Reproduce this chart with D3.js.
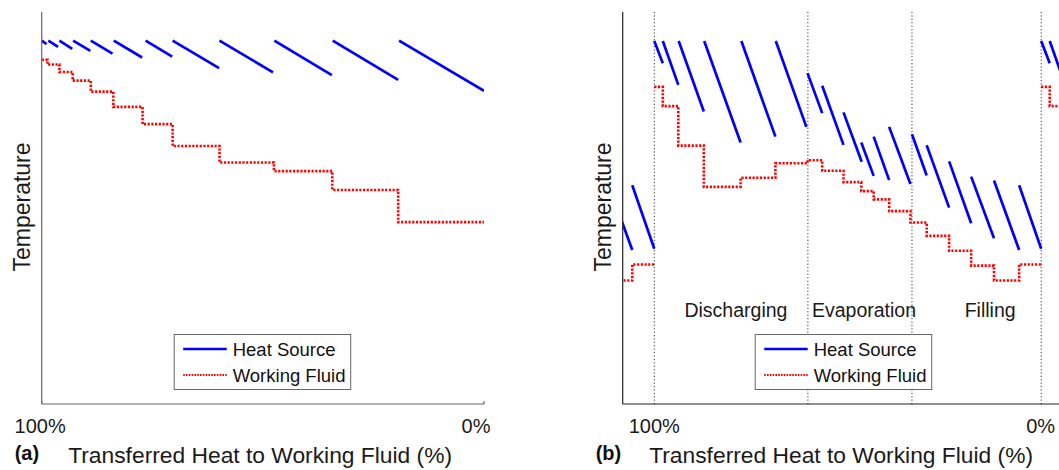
<!DOCTYPE html>
<html>
<head>
<meta charset="utf-8">
<script src="https://cdn.jsdelivr.net/npm/d3@7.9.0/dist/d3.min.js"></script>
<style>
  body { margin: 0; background: #fff; }
  svg { display: block; font-family: "Liberation Sans", Arial, Helvetica, sans-serif; }
</style>
</head>
<body>
<svg width="1059" height="470"></svg>
<script>
// x values are % of heat transferred (100 -> 0), y values are a relative temperature (0-100)

// (a) heat source segments: [x start, T start, x end, T end]
const sourceA = [
  [100, 92.7, 98.9, 91.8],
  [98.5, 92.7, 96.3, 91.1],
  [96.0, 92.7, 93.1, 90.6],
  [92.9, 92.7, 89.0, 90.1],
  [88.9, 92.7, 84.0, 89.4],
  [83.7, 92.7, 77.3, 88.4],
  [76.5, 92.7, 70.5, 88.6],
  [70.4, 92.7, 59.9, 85.7],
  [59.8, 92.7, 47.7, 84.6],
  [47.4, 92.7, 34.4, 83.9],
  [34.2, 92.7, 19.4, 82.7],
  [19.2, 92.7, 0, 79.9]
];
// (a) working fluid steps: breakpoints and levels
const fluidAx = [100, 98.7, 96.0, 93.0, 88.9, 83.8, 77.2, 70.4, 59.8, 47.5, 34.3, 19.4, 0];
const fluidAt = [87.8, 86.6, 84.7, 82.5, 79.7, 75.8, 71.4, 65.8, 61.6, 59.4, 54.6, 46.4];

// (b) one cycle of heat source segments
const sourceB = [
  [100, 92.6, 97.8, 86.9],
  [97.8, 92.6, 93.8, 81.4],
  [93.7, 92.6, 87.2, 74.6],
  [87.1, 92.6, 77.7, 66.7],
  [77.5, 92.6, 68.7, 68.2],
  [68.6, 92.6, 60.7, 70.7],
  [60.4, 84.4, 56.6, 74.2],
  [56.6, 81.2, 51.1, 66.1],
  [51.1, 74.4, 46.4, 61.8],
  [46.5, 66.7, 43.3, 58.2],
  [43.3, 68.2, 39.3, 57.1],
  [39.3, 70.7, 33.8, 56.1],
  [33.4, 68.8, 29.6, 58.3],
  [29.6, 66.0, 23.8, 50.1],
  [23.8, 61.9, 18.1, 46.1],
  [18.1, 58.0, 12.2, 42.3],
  [12.2, 57.0, 5.7, 39.3],
  [5.7, 55.8, 0, 39.6]
];
const fluidBx = [100, 97.8, 93.8, 87.2, 77.7, 68.7, 60.4, 56.6, 51.1, 46.5, 43.3, 39.3, 33.8, 29.6, 23.8, 18.1, 12.2, 5.7, 0];
const fluidBt = [80.9, 76.0, 65.9, 55.4, 57.7, 61.4, 62.2, 59.5, 56.6, 54.3, 52.2, 49.2, 46.3, 42.9, 39.1, 35.3, 31.5, 35.6];
// the cycle repeats, so the neighbouring cycles show at the edges
const cycleShift = [100, 0, -100];

const phaseX = [100, 60.3, 33.4, 0];
const phaseNames = ["Discharging", "Evaporation", "Filling"];
const phaseLabelX = [78.9, 45.8, 13.2];

const tickValues = [100, 0];
const tickLabels = ["100%", "0%"];
const legendNames = ["Heat Source", "Working Fluid"];
const yLabel = "Temperature";
const xLabel = "Transferred Heat to Working Fluid (%)";

const BLUE = "#0000ff", RED = "#ff0000";
const plotTop = 12, plotBottom = 404;

const svg = d3.select("svg");
const y = d3.scaleLinear().domain([0, 100]).range([plotBottom, plotTop]);
const segLine = d3.line();
const stepLine = d3.line().curve(d3.curveStepAfter);

function drawPanel(p) {
  const x = d3.scaleLinear().domain([100, 0]).range(p.range);
  const g = svg.append("g");

  // clip to the axes box
  svg.append("clipPath").attr("id", "clip-" + p.id)
    .append("rect")
    .attr("x", p.left).attr("y", plotTop)
    .attr("width", p.right - p.left).attr("height", plotBottom - plotTop);

  const plot = g.append("g").attr("clip-path", `url(#clip-${p.id})`);

  // phase separators
  if (p.phases) {
    plot.selectAll(".phase").data(phaseX).join("line")
      .attr("x1", d => x(d)).attr("x2", d => x(d))
      .attr("y1", plotTop).attr("y2", plotBottom)
      .attr("stroke", "#333").attr("stroke-width", 1)
      .attr("stroke-dasharray", "1.2,2.2");
  }

  p.shifts.forEach(s => {
    const pts = p.fluidX.map((v, i) => [x(v + s), y(p.fluidT[Math.min(i, p.fluidT.length - 1)])]);
    plot.append("path")
      .attr("d", stepLine(pts))
      .attr("fill", "none").attr("stroke", RED)
      .attr("stroke-width", 2.6).attr("stroke-dasharray", "2.2,1.5");

    p.source.forEach(d => {
      plot.append("path")
        .attr("d", segLine([[x(d[0] + s), y(d[1])], [x(d[2] + s), y(d[3])]]))
        .attr("fill", "none").attr("stroke", BLUE).attr("stroke-width", 2.7);
    });
  });

  // axes lines
  g.append("line")
    .attr("x1", p.left).attr("x2", p.left).attr("y1", plotTop).attr("y2", plotBottom)
    .attr("stroke", p.axisColor).attr("stroke-width", 1.2);
  g.append("line")
    .attr("x1", p.left).attr("x2", p.right).attr("y1", plotBottom).attr("y2", plotBottom)
    .attr("stroke", p.axisColor).attr("stroke-width", 1.2);
  if (p.ticks) {
    g.selectAll(".tick").data(tickValues).join("line")
      .attr("x1", d => x(d)).attr("x2", d => x(d))
      .attr("y1", plotBottom).attr("y2", plotBottom - 3)
      .attr("stroke", p.axisColor).attr("stroke-width", 1.2);
  }

  // tick labels
  g.selectAll(".tl").data(tickValues).join("text")
    .attr("x", (d, i) => x(d) + p.labelShift[i])
    .attr("y", 433)
    .attr("text-anchor", "middle")
    .attr("font-size", 20).attr("fill", "#1a1a1a")
    .text((d, i) => tickLabels[i]);

  // phase names
  if (p.phases) {
    g.selectAll(".pn").data(phaseNames).join("text")
      .attr("x", (d, i) => x(phaseLabelX[i]))
      .attr("y", 317)
      .attr("text-anchor", "middle")
      .attr("font-size", 19.5).attr("fill", "#1a1a1a")
      .text(d => d);
  }

  // axis titles
  g.append("text")
    .attr("transform", `translate(${p.left - 11.5},207) rotate(-90)`)
    .attr("text-anchor", "middle")
    .attr("font-size", 23).attr("fill", "#1a1a1a")
    .text(yLabel);
  g.append("text")
    .attr("x", p.left + 26.5).attr("y", 463)
    .attr("font-size", 22.8).attr("fill", "#1a1a1a")
    .text(xLabel);
  g.append("text")
    .attr("x", p.left - 27).attr("y", 460)
    .attr("font-size", 20).attr("font-weight", "bold").attr("fill", "#111")
    .text(p.tag);

  // legend
  const lg = g.append("g").attr("transform", `translate(${p.left + 132.5},334.5)`);
  lg.append("rect")
    .attr("width", 176.5).attr("height", 55)
    .attr("fill", "#fff").attr("stroke", "#666").attr("stroke-width", 1);
  legendNames.forEach((name, i) => {
    const ly = 14.5 + i * 26;
    lg.append("line")
      .attr("x1", 9).attr("x2", 52.5).attr("y1", ly).attr("y2", ly)
      .attr("stroke", i === 0 ? BLUE : RED)
      .attr("stroke-width", i === 0 ? 2.6 : 2)
      .attr("stroke-dasharray", i === 0 ? null : "1.6,1.2");
    lg.append("text")
      .attr("x", 58.5).attr("y", ly + 6.5)
      .attr("font-size", 18.5).attr("fill", "#111")
      .text(name);
  });
}

drawPanel({
  id: "a", tag: "(a)", left: 41.7, right: 484, range: [41.7, 484],
  source: sourceA, fluidX: fluidAx, fluidT: fluidAt, shifts: [0],
  phases: false, ticks: true, axisColor: "#666", labelShift: [-1.5, -8]
});

drawPanel({
  id: "b", tag: "(b)", left: 622.7, right: 1059, range: [654.3, 1041.2],
  source: sourceB, fluidX: fluidBx, fluidT: fluidBt, shifts: cycleShift,
  phases: true, ticks: false, axisColor: "#222", labelShift: [0, -0.5]
});
</script>
</body>
</html>
